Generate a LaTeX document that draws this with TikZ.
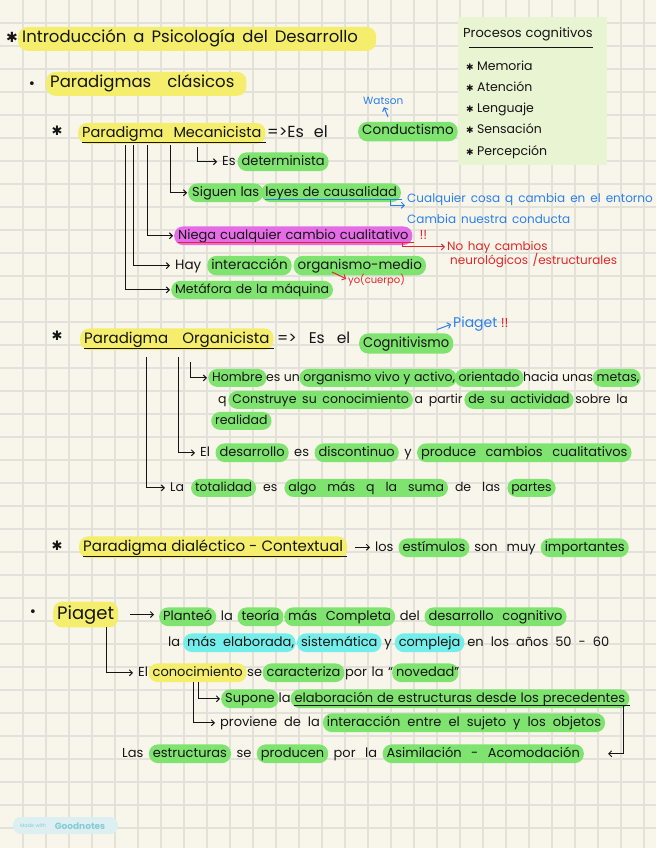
\documentclass[tikz,border=0pt]{standalone}
\usepackage{fontspec}
\setmainfont{Poppins}
\newfontfamily\symfont{DejaVu Sans}
\usepackage{xcolor}
\usetikzlibrary{arrows.meta}
\definecolor{paper}{HTML}{F8F6EA}
\definecolor{gridc}{HTML}{E2E1DA}
\definecolor{ink}{HTML}{151515}
\definecolor{hlyellow}{HTML}{F4EE6C}
\definecolor{hlgreen}{HTML}{7FE46F}
\definecolor{hlmagenta}{HTML}{E66BE6}
\definecolor{hlcyan}{HTML}{74EEEA}
\definecolor{noteblue}{HTML}{2B7FEF}
\definecolor{notered}{HTML}{E1262A}
\definecolor{notebox}{HTML}{E8F4D2}
\definecolor{badge}{HTML}{DDEFF0}
\definecolor{badgetxt}{HTML}{86CCD6}
\newcommand\fsz[1]{\fontsize{#1}{#1}\selectfont}
\newcommand\hwf[2]{\fsz{#1}\spaceskip=#2pt\relax}
% highlighter pen behind a word (keeps the word spacing of the line)
\newcommand\hl[2][hlg]{\edef\hlsp{\the\spaceskip}\hspace{-4pt}%
  \tikz[baseline=(w.base)]\node[hlbox,#1](w){\spaceskip=\hlsp\relax#2};\hspace{-4pt}}
\newcommand\hlu[3][hlg]{\edef\hlsp{\the\spaceskip}\hspace{-4pt}%
  \tikz[baseline=(w.base)]{\node[hlbox,#1](w){\spaceskip=\hlsp\relax#3};
  \draw[#2] ([xshift=4pt,yshift=-3pt]w.base west) -- ([xshift=1pt,yshift=-3pt]w.base east);}\hspace{-4pt}}
\tikzset{
  hw/.style={anchor=base west,inner sep=0pt,text=ink,font=\hwf{13}{4}},
  hwhead/.style={hw,font=\hwf{16}{10}},
  hwnote/.style={hw,font=\hwf{12}{5}},
  hwsmall/.style={hw,font=\fsz{10}},
  bulletmark/.style={inner sep=0pt,text=ink,font=\symfont\fsz{13}},
  gridline/.style={draw=gridc,line width=1.2pt},
  hlbox/.style={anchor=base,inner xsep=4pt,inner ysep=0.27em,text height=0.7em,
                text depth=0.2em,rounded corners=9pt},
  hly/.style={fill=hlyellow},
  hlg/.style={fill=hlgreen},
  hlm/.style={fill=hlmagenta},
  hlc/.style={fill=hlcyan},
  uline/.style={draw=ink,line width=1pt},
  ulineb/.style={draw=noteblue,line width=1pt},
  uliner/.style={draw=notered,line width=1pt},
  arr/.style={-{Straight Barb[length=3pt,width=6pt]},draw=ink,line width=1pt,shorten >=5pt},
  arrb/.style={arr,draw=noteblue,shorten >=2pt},
  arrr/.style={arr,draw=notered,shorten >=2pt}
}

\begin{document}
\begin{tikzpicture}[x=1pt,y=-1pt]
  \useasboundingbox (0,0) rectangle (656,848);
  % paper and grid
  \fill[paper] (0,0) rectangle (656,848);
  \foreach \i in {1,...,28} \draw[gridline] (\i*23,0) -- (\i*23,848);
  \foreach \j in {1,...,36} \draw[gridline] (0,\j*23) -- (656,\j*23);

  % sticky note
  \fill[notebox] (458,17) rectangle (607,165);
  \node[hw,font=\hwf{13}{4}] (proc) at (463,38) {Procesos cognitivos};
  \draw[uline] ([xshift=6pt,yshift=-10pt]proc.base west) -- ([yshift=-10pt]proc.base east);
  \foreach \t [count=\k] in {Memoria,Atención,Lenguaje,Sensación,Percepción}
    \node[hw,font=\fsz{12.5}] (p\k) at (466,{50+21*\k}) {{\symfont\fsz{9}✱} \t};

  % title
  \node[bulletmark,font=\symfont\fsz{14}] (s0) at (12,37) {✱};
  \node[hw,font=\hwf{16.5}{7}] (title) at (22,43) {\hl[hly]{Introducción a Psicología del Desarrollo\hspace{14pt}\null}};
  \node[bulletmark] (b1) at (32,85) {•};
  \node[hw,font=\hwf{16.5}{16}] (clas) at (50,88) {\hl[hly]{Paradigmas clásicos\hspace{8pt}\null}};

  % mecanicista
  \node[bulletmark] (s1) at (57,131) {✱};
  \node[hw,font=\hwf{14.5}{10}] (mec) at (82,137) {\hl[hly]{Paradigma Mecanicista}};
  \draw[uline] ([yshift=-5pt]mec.base west) -- ([yshift=-5pt]mec.base east);
  \node[hwhead] (mes) at (267,137) {=>Es el};
  \node[hw,font=\hwf{13.5}{4}] (cond) at (362,135) {\hl{Conductismo}};
  \node[hwsmall,font=\fsz{10.5},text=noteblue] (wat) at (363,105) {Watson};
  \draw[arrb] (388,117) -- (wat.south);

  \node[hw,font=\hwf{13}{6}] (det) at (222,165) {Es \hl{determinista}};
  \node[hw] (sig) at (192,196) {\hl{Siguen las}\hspace{2pt} \hlu{ulineb}{leyes de causalidad}};
  \node[hwnote] (cua1) at (407,202) {\color{noteblue}Cualquier cosa q cambia en el entorno};
  \node[hwnote] (cua2) at (407,223) {\color{noteblue}Cambia nuestra conducta};
  \draw[arrb] ([xshift=-12pt,yshift=-3pt]sig.base east) |- (cua1.south west);

  \node[hw] (niega) at (178,239) {\hlu[hlm]{uliner}{Niega cualquier cambio cualitativo}};
  \node[hw,text=notered] (ex1) at ([xshift=5pt]niega.base east) {!!};
  \node[hwnote,text=notered,font=\hwf{12}{4.5}] (nh1) at (447,250) {No hay cambios};
  \node[hwnote,text=notered,font=\hwf{12}{4.5}] (nh2) at (450,264) {neurológicos /estructurales};
  \draw[arrr] ([xshift=-12pt,yshift=-4pt]niega.base east) |- (nh1.west);

  \node[hw,font=\hwf{13.5}{10}] (hay) at (175,269) {Hay \hl{interacción} \hl{organismo-medio}};
  \node[hwsmall,text=notered] (yo) at (348,283) {yo(cuerpo)};
  \draw[arrr] (332,272) -- (yo.west);
  \node[hw,font=\hwf{12.5}{4}] (meta) at (175,293) {\hl{Metáfora de la máquina}};

  \foreach \x/\e in {125/meta,133/hay,147/niega,170/sig}
    \draw[arr] (\x,145) |- (\e.west);
  \draw[arr] (197,147) |- (det.west);

  % organicista
  \node[bulletmark] (s2) at (57,336) {✱};
  \node[hw,font=\hwf{15}{14}] (org) at (84,343) {\hl[hly]{Paradigma Organicista}};
  \draw[uline] ([yshift=-5pt]org.base west) -- ([yshift=-5pt]org.base east);
  \node[hwhead,font=\hwf{15.5}{12}] (oes) at (277,343) {=> Es el};
  \node[hw,font=\hwf{14}{4}] (cog) at (363,347) {\hl{\resizebox{86pt}{\height}{Cognitivismo}}};
  \node[hw,font=\fsz{14},text=noteblue] (pg) at (453,327) {Piaget};
  \node[hw,text=notered] (ex2) at ([xshift=3pt]pg.base east) {!!};
  \draw[arrb] ([xshift=-16pt,yshift=-6pt]pg.west) -- (pg.west);

  \node[hw,font=\hwf{12.5}{3.5}] (hom1) at (212,381)
    {\hl{Hombre} es un \hl{organismo vivo y activo}, \hl{orientado} hacia unas \hl{metas},};
  \node[hw,font=\hwf{12.5}{5.7}] (hom2) at (218,403)
    {q \hl{Construye su conocimiento} a partir \hl{de su actividad} sobre la};
  \node[hw,font=\hwf{12.5}{4}] (hom3) at (215,424) {\hl{realidad}};
  \node[hw,font=\hwf{13}{9.5}] (des) at (200,456)
    {El \hl{desarrollo} es \hl{discontinuo} y \hl{produce cambios cualitativos}};
  \node[hw,font=\hwf{12.5}{11}] (tot) at (170,491)
    {La \hl{totalidad} es \hl{algo más q la suma} de las \hl{partes}};
  \draw[arr] (190,362) |- (hom1.west);
  \draw[arr] (178,357) |- (des.west);
  \draw[arr] (146,357) |- (tot.west);

  % dialectico
  \node[bulletmark] (s3) at (57,546) {✱};
  \node[hw,font=\hwf{15}{4}] (dia) at (83,551) {\hl[hly]{Paradigma dialéctico - Contextual}};
  \draw[uline] ([yshift=-5pt]dia.base west) -- ([yshift=-5pt]dia.base east);
  \node[hw,font=\hwf{13}{9}] (est) at (375,551) {los \hl{estímulos} son muy \hl{importantes}};
  \draw[arr,shorten <=8pt] (dia.east) -- (dia.east -| est.west);

  % piaget
  \node[bulletmark] (b2) at (33,613) {•};
  \node[hw,font=\fsz{18}] (pia) at (57,619) {\hl[hly]{Piaget}};
  \node[hw,font=\hwf{13}{8.7}] (plan) at (163,620)
    {\hl{Planteó} la \hl{teoría} \hl{más Completa} del \hl{desarrollo cognitivo}};
  \node[hw,font=\hwf{13}{7}] (plan2) at (168,646)
    {la \hl[hlc]{más elaborada}, \hl[hlc]{sistemática} y \hl[hlc]{compleja} en los años 50 - 60};
  \draw[arr,shorten <=12pt,shorten >=9pt] (pia.east) -- (pia.east -| plan.west);
  \node[hw,font=\hwf{13}{4.6}] (con) at (138,676)
    {El \hl[hly]{conocimiento} se \hl{caracteriza} por la “\hspace{3pt}\hl{novedad}”};
  \draw[arr] (106,627) |- (con.west);
  \node[hw] (sup) at (225,702)
    {\hl{Supone} la \hlu{uline}{elaboración de estructuras desde los precedentes}};
  \node[hw,font=\hwf{13}{7}] (pro) at (220,726)
    {proviene de la \hl{interacción entre el sujeto y los objetos}};
  \draw[arr] (198,682) |- (sup.west);
  \draw[arr] (193,682) |- (pro.west);
  \node[hw,font=\hwf{13}{9.5}] (las) at (122,757)
    {Las \hl{estructuras} se \hl{producen} por la \hl{Asimilación - Acomodación}};
  \draw[arr,shorten >=24pt] ([xshift=-8pt,yshift=-4pt]sup.base east) |- (las.east);

  % badge
  \fill[badge,rounded corners=8pt] (13,817) rectangle (118,834);
  \node[inner sep=0pt,text=badgetxt,font=\fsz{5}] (mw) at (33,826) {Made with};
  \node[inner sep=0pt,text=badgetxt,font=\bfseries\fsz{9}] (gn) at (80,826) {Goodnotes};
\end{tikzpicture}
\end{document}
